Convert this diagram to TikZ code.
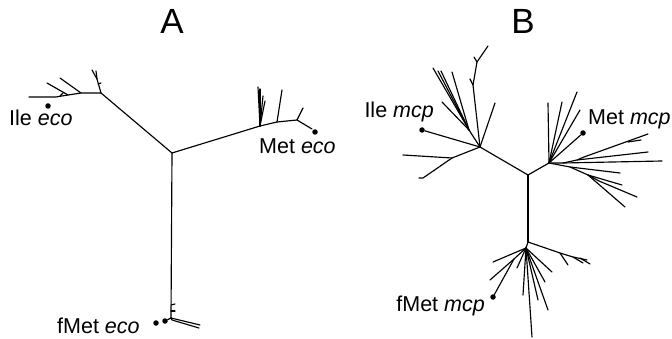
\documentclass[tikz,border=0pt]{standalone}
\usepackage{fontspec}
\setmainfont{Liberation Sans}
\begin{document}
\begin{tikzpicture}[x=1pt,y=-1pt,
  br/.style={line width=1.15pt, line cap=round, line join=round},
  dotn/.style={circle, fill=black, inner sep=0pt, minimum size=5.5pt},
  lab/.style={inner sep=0pt, font=\fontsize{21.5}{25}\selectfont},
  ttl/.style={inner sep=0pt, font=\fontsize{35}{40}\selectfont}]
\useasboundingbox (0,0) rectangle (672,339);
\fill[white] (0,0) rectangle (672,339);

% ---------- titles
\node[ttl] (tA) at (172,21) {A};
\node[ttl] (tB) at (523,21) {B};

% ================= Tree A
\coordinate (ac) at (172,153);
\coordinate (a1) at (101,93);
\coordinate (a2) at (260,126);
\coordinate (a3) at (171,318);
\draw[br] (ac) -- (a1);
\draw[br] (ac) -- (a2);
\draw[br] (ac) -- (a3);

% Ile eco clade
\coordinate (a11) at (81,93);
\coordinate (a12) at (68,95);
\coordinate (a13) at (56,97);
\coordinate (a1L1) at (60,78);
\coordinate (a1L2) at (47,83);
\coordinate (a1L3) at (29,97);
\coordinate (a14) at (97,79);
\coordinate (a1L4) at (92,70);
\coordinate (a1L5) at (96,71);
\draw[br] (a1) -- (a11) -- (a12) -- (a13) -- (a1L3);
\draw[br] (a11) -- (a1L1);
\draw[br] (a12) -- (a1L2);
\draw[br] (a1) -- (a14) -- (a1L4);
\draw[br] (a14) -- (a1L5);
\coordinate (a1t1) at (98,84);
\coordinate (a1t1e) at (101,83);
\draw[br] (a1t1) -- (a1t1e);
\coordinate (a13t) at (60,96);
\coordinate (a13te) at (63,93);
\draw[br] (a13t) -- (a13te);
\node[dotn] (dIle) at (48,106) {};
\node[lab, anchor=base west] (lIle) at (9,126) {Ile \textit{eco}};

% Met eco clade
\coordinate (a21) at (277,122);
\coordinate (a22) at (297,120);
\coordinate (a2L1) at (258,87);
\coordinate (a2L2) at (260,89);
\coordinate (a2L3) at (263,96);
\coordinate (a2L4) at (265,101);
\coordinate (a2L5) at (282,90);
\coordinate (a2L6) at (303,108);
\coordinate (a2L7) at (312,129);
\draw[br] (a2) -- (a21) -- (a22) -- (a2L7);
\draw[br] (a2) -- (a2L1);
\draw[br] (a2) -- (a2L2);
\draw[br] (a2) -- (a2L3);
\draw[br] (a2) -- (a2L4);
\draw[br] (a21) -- (a2L5);
\draw[br] (a22) -- (a2L6);
\node[dotn] (dMet) at (315,132) {};
\node[lab, anchor=base west] (lMet) at (259,154) {Met \textit{eco}};

% fMet eco clade
\coordinate (a3L1) at (200,325);
\coordinate (a3b) at (172,320);
\coordinate (a3L2) at (199,328);
\coordinate (a3t1) at (171,305);
\coordinate (a3t1e) at (175,304);
\coordinate (a3t2) at (171,311);
\coordinate (a3t2e) at (175,311);
\draw[br] (a3) -- (a3L1);
\draw[br] (a3) -- (a3b) -- (a3L2);
\draw[br] (a3t1) -- (a3t1e);
\draw[br] (a3t2) -- (a3t2e);
\node[dotn] (dF1) at (165,321) {};
\node[dotn] (dF2) at (156,323) {};
\draw[br] (a3) -- (dF1);
\node[lab, anchor=base west] (lF) at (57,333) {fMet \textit{eco}};

% ================= Tree B
\coordinate (bc) at (528,175);
\coordinate (bL) at (480,147);
\coordinate (bR) at (549,163);
\coordinate (bD) at (528,242);
\draw[br] (bc) -- (bL);
\draw[br] (bc) -- (bR);
\draw[br] (bc) -- (bD);

% Ile mcp clade
\node[dotn] (dIm) at (422,130) {};
\draw[br] (bL) -- (dIm);
\coordinate (b2) at (452,158);
\coordinate (b2L1) at (403,155);
\coordinate (b2L2) at (423,178);
\coordinate (b2L2t) at (419,178);
\draw[br] (bL) -- (b2) -- (b2L1);
\draw[br] (b2) -- (b2L2) -- (b2L2t);
\coordinate (b3) at (469,130);
\coordinate (b3L1) at (433,68);
\coordinate (b3L2) at (438,71);
\coordinate (b3L2b) at (441,71);
\coordinate (b3L3) at (452,72);
\coordinate (b3L4) at (442,102);
\draw[br] (bL) -- (b3) -- (b3L1);
\draw[br] (b3) -- (b3L2);
\draw[br] (b3) -- (b3L2b);
\draw[br] (b3) -- (b3L3);
\draw[br] (b3) -- (b3L4);
\coordinate (b4) at (473,85);
\coordinate (b5) at (477,62);
\coordinate (b5L) at (488,46);
\coordinate (b4L) at (470,79);
\coordinate (b5L2) at (474,57);
\draw[br] (bL) -- (b4) -- (b5) -- (b5L);
\draw[br] (b4) -- (b4L);
\draw[br] (b5) -- (b5L2);
\coordinate (bLf) at (495,103);
\draw[br] (bL) -- (bLf);
\node[lab, anchor=base east] (lIm) at (434,118) {Ile \textit{mcp}};

% Met mcp clade
\coordinate (bRL1) at (548,103);
\coordinate (bRL2) at (562,102);
\coordinate (bRL3) at (577,92);
\coordinate (bRL4) at (580,110);
\draw[br] (bR) -- (bRL1);
\draw[br] (bR) -- (bRL2);
\draw[br] (bR) -- (bRL3);
\draw[br] (bR) -- (bRL4);
\node[dotn] (dMm) at (583,133) {};
\draw[br] (bR) -- (dMm);
\coordinate (m1) at (563,163);
\coordinate (m1L) at (662,161);
\coordinate (m2) at (577,160);
\coordinate (m2L) at (648,152);
\coordinate (m3) at (584,157);
\coordinate (m3L) at (648,134);
\coordinate (m3t) at (628,142);
\coordinate (m3tL) at (641,140);
\draw[br] (bR) -- (m1) -- (m1L);
\draw[br] (m1) -- (m2) -- (m2L);
\draw[br] (m2) -- (m3) -- (m3L);
\draw[br] (m3t) -- (m3tL);
\coordinate (m4) at (570,167);
\coordinate (m5) at (588,175);
\coordinate (m6) at (599,181);
\coordinate (m4L) at (620,173);
\coordinate (m5L) at (622,185);
\coordinate (m5L2) at (625,207);
\coordinate (m6L) at (637,197);
\draw[br] (bR) -- (m4) -- (m5) -- (m6) -- (m6L);
\draw[br] (m4) -- (m4L);
\draw[br] (m5) -- (m5L);
\draw[br] (m5) -- (m5L2);
\node[lab, anchor=base west] (lMm) at (588,125) {Met \textit{mcp}};

% fMet mcp clade
\coordinate (f1) at (560,253);
\coordinate (f2) at (573,257);
\coordinate (fRL) at (587,260);
\coordinate (f1L) at (568,265);
\coordinate (f2L) at (583,263);
\coordinate (fRt) at (580,258);
\coordinate (fRtL) at (590,264);
\draw[br] (bD) -- (f1) -- (f2) -- (fRL);
\draw[br] (f1) -- (f1L);
\draw[br] (f2) -- (f2L);
\draw[br] (fRt) -- (fRtL);
\coordinate (f3) at (526,248);
\coordinate (f3L1) at (548,310);
\coordinate (f3L2) at (545,282);
\coordinate (f3L3) at (538,300);
\coordinate (f3L4) at (532,337);
\coordinate (f3L5) at (523,295);
\coordinate (f3L6) at (517,268);
\coordinate (f3L7) at (493,262);
\coordinate (f3L8) at (552,272);
\draw[br] (bD) -- (f3);
\draw[br] (f3) -- (f3L1);
\draw[br] (f3) -- (f3L2);
\draw[br] (f3) -- (f3L3);
\draw[br] (f3) -- (f3L4);
\draw[br] (f3) -- (f3L5);
\draw[br] (f3) -- (f3L6);
\draw[br] (f3) -- (f3L7);
\draw[br] (f3) -- (f3L8);
\coordinate (f4) at (514,259);
\coordinate (f4L) at (490,280);
\draw[br] (f3) -- (f4) -- (f4L);
\node[dotn] (dFm) at (493,297) {};
\draw[br] (f4) -- (dFm);
\node[lab, anchor=base east] (lFm) at (485,311) {fMet \textit{mcp}};
\end{tikzpicture}
\end{document}
